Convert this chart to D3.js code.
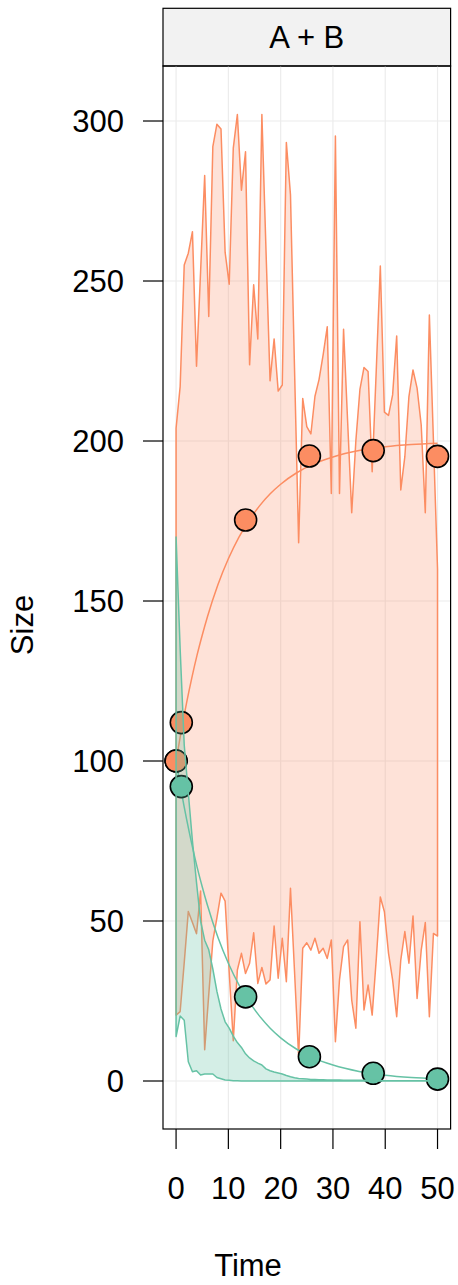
<!DOCTYPE html>
<html><head><meta charset="utf-8">
<script src="https://cdn.jsdelivr.net/npm/d3@7"></script>
<style>body{margin:0;background:#fff}svg{display:block}text{font-family:"Liberation Sans",Arial,Helvetica,sans-serif;fill:#000}</style>
</head><body><svg id="c" width="458" height="1285"></svg>
<script>
// ---- data ----
const stripLabel = "A + B";
const xLabel = "Time", yLabel = "Size";
const xTicks = [0, 10, 20, 30, 40, 50];
const yTicks = [0, 50, 100, 150, 200, 250, 300];

const simTime = [0,0.78,1.56,2.34,3.13,3.91,4.69,5.47,6.25,7.03,7.81,8.59,9.38,10.16,10.94,11.72,12.5,13.28,14.06,14.84,15.63,16.41,17.19,17.97,18.75,19.53,20.31,21.09,21.88,22.66,23.44,24.22,25,25.78,26.56,27.34,28.13,28.91,29.69,30.47,31.25,32.03,32.81,33.59,34.38,35.16,35.94,36.72,37.5,38.28,39.06,39.84,40.63,41.41,42.19,42.97,43.75,44.53,45.31,46.09,46.88,47.66,48.44,49.22,50];

const orangeUpper = [204,217,255,258.7,265.4,223.4,253,283,238.9,292,299,297.5,259,249,291.5,302,278.4,290.4,223.8,248.8,231.9,302,260,218.8,231.9,215.6,217.5,293.3,276.9,222,168.2,213.3,204.5,202.2,214,219.2,227,235.7,183.6,295.3,183.6,234.9,206,177.6,200,216.1,223,221.7,190.4,222,254.7,209,208,214.4,232.8,184.7,195.1,213.9,222.2,216.5,205,177.6,239.4,200,160];
const orangeLower = [20.6,21.7,37,53,49.5,46,59.4,9.8,27,43.8,51,58.7,56.2,34,12.6,34.7,39.9,33.6,36.8,46.3,30.5,35.5,30.3,31.6,48.4,32.1,44.6,31,60.2,34,7.6,41.5,43.2,40.9,44.6,39.9,41.5,38.3,44.1,12.3,31.6,42,44.1,25.3,16.5,49.8,22.2,30,20.6,38,57.5,52.9,39.9,31.6,20.1,37.8,46.7,36.8,51.6,25.8,40.9,49.5,20.1,46.1,45.3];
const greenUpper = [170,135,105,90,75,62,50,44,41,35,28,22.5,18.5,16.5,14,12,10.5,8.5,7.2,6.3,5.6,5,3.8,3.2,2.8,2.5,2.2,1.7,1.3,1,0.8,0.7,0.6,0.5,0.5,0.4,0.4,0.35,0.3,0.3,0.3,0.25,0.25,0.2,0.2,0.2,0.2,0.15,0.15,0.15,0.15,0.1,0.1,0.1,0.1,0.1,0.1,0.1,0.1,0.1,0.1,0.1,0.1,0.1,0.1];
const greenLower = [13.9,20.3,19,6,2.9,3.2,1.9,2.2,2.2,2.2,1.1,0.7,0.3,0.2,0.1,0.1,0,0,0,0,0,0,0,0,0,0,0,0,0,0,0,0,0,0,0,0,0,0,0,0,0,0,0,0,0,0,0,0,0,0,0,0,0,0,0,0,0,0,0,0,0,0,0,0,0];

const fitTime = [0,1,2,3,4,5,6,8,10,12,14,16,18,20,23,26,30,35,40,45,50];
const orangeFit = [100,109.5,118.1,125.9,133,139.3,145.1,155.1,163.2,169.9,175.3,179.8,183.5,186.5,190,192.6,195,197,198.2,198.9,199.3];
const greenFit = [100,90.5,81.9,74.1,67,60.7,54.9,44.9,36.8,30.1,24.7,20.2,16.5,13.5,10,7.4,5,3,1.8,1.1,0.7];

const obsTime = [0,1,13.3,25.5,37.7,50];
const orangeObs = [100,112,175.3,195.3,197,195.2];
const greenObs = [100,92,26.3,7.6,2.4,0.6];

// ---- layout ----
const orange = "#fc8d62", green = "#66c2a5";
const P = {l:163, r:450.6, t:66, b:1129, stripTop:8.3};
const FS = 31;
const svg = d3.select("#c");
const x = d3.scaleLinear().domain([-2.5, 52.5]).range([P.l, P.r]);
const y = d3.scaleLinear().domain([-15, 317.19]).range([P.b, P.t]);

svg.append("clipPath").attr("id","clip").append("rect")
  .attr("x",P.l).attr("y",P.t).attr("width",P.r-P.l).attr("height",P.b-P.t);

// strip
svg.append("rect").attr("x",P.l).attr("y",P.stripTop).attr("width",P.r-P.l).attr("height",P.t-P.stripTop)
  .attr("fill","#f2f2f2").attr("stroke","#000").attr("stroke-width",1.2);
svg.append("text").attr("x",(P.l+P.r)/2).attr("y",(P.stripTop+P.t)/2).attr("dy","0.36em")
  .attr("text-anchor","middle").attr("font-size",FS).text(stripLabel);

const plot = svg.append("g").attr("clip-path","url(#clip)");
// grid
plot.selectAll(".gx").data(xTicks).join("line").attr("x1",d=>x(d)).attr("x2",d=>x(d))
  .attr("y1",P.t).attr("y2",P.b).attr("stroke","#ececec").attr("stroke-width",1.2);
plot.selectAll(".gy").data(yTicks).join("line").attr("y1",d=>y(d)).attr("y2",d=>y(d))
  .attr("x1",P.l).attr("x2",P.r).attr("stroke","#ececec").attr("stroke-width",1.2);

function ribbon(up, lo){
  const pts = simTime.map((t,i)=>[x(t), y(up[i])]);
  const back = simTime.map((t,i)=>[x(t), y(lo[i])]).reverse();
  return d3.line()(pts.concat(back)) + "Z";
}
const fitLine = d3.line().curve(d3.curveMonotoneX);

plot.append("path").attr("d", ribbon(orangeUpper, orangeLower))
  .attr("fill", orange).attr("fill-opacity",0.25).attr("stroke",orange).attr("stroke-width",1.5).attr("stroke-linejoin","round");

plot.append("path").attr("d", fitLine(fitTime.map((t,i)=>[x(t),y(orangeFit[i])])))
  .attr("fill","none").attr("stroke",orange).attr("stroke-width",1.5);
plot.append("path").attr("d", fitLine(fitTime.map((t,i)=>[x(t),y(greenFit[i])])))
  .attr("fill","none").attr("stroke",green).attr("stroke-width",1.5);

function pts(vals, col){
  plot.append("g").selectAll("circle").data(obsTime).join("circle")
    .attr("cx",d=>x(d)).attr("cy",(d,i)=>y(vals[i])).attr("r",11)
    .attr("fill",col).attr("stroke","#000").attr("stroke-width",1.6);
}
pts(greenObs, green);
pts(orangeObs, orange);

plot.append("path").attr("d", ribbon(greenUpper, greenLower))
  .attr("fill", green).attr("fill-opacity",0.28).attr("stroke",green).attr("stroke-width",1.5).attr("stroke-linejoin","round");

// panel border
svg.append("rect").attr("x",P.l).attr("y",P.t).attr("width",P.r-P.l).attr("height",P.b-P.t)
  .attr("fill","none").attr("stroke","#000").attr("stroke-width",1.2);

// axes
const ga = svg.append("g");
ga.selectAll(".tx").data(xTicks).join("line").attr("x1",d=>x(d)).attr("x2",d=>x(d))
  .attr("y1",P.b).attr("y2",P.b+20).attr("stroke","#000").attr("stroke-width",1.2);
ga.selectAll(".lx").data(xTicks).join("text").attr("x",d=>x(d)).attr("y",1199)
  .attr("text-anchor","middle").attr("font-size",FS).text(d=>d);
ga.selectAll(".ty").data(yTicks).join("line").attr("y1",d=>y(d)).attr("y2",d=>y(d))
  .attr("x1",P.l-20).attr("x2",P.l).attr("stroke","#000").attr("stroke-width",1.2);
ga.selectAll(".ly").data(yTicks).join("text").attr("x",124).attr("y",d=>y(d)).attr("dy","0.36em")
  .attr("text-anchor","end").attr("font-size",FS).text(d=>d);

svg.append("text").attr("x",248).attr("y",1276).attr("text-anchor","middle").attr("font-size",FS).text(xLabel);
svg.append("text").attr("transform","translate(33,625) rotate(-90)").attr("text-anchor","middle")
  .attr("font-size",FS).text(yLabel);
</script></body></html>
